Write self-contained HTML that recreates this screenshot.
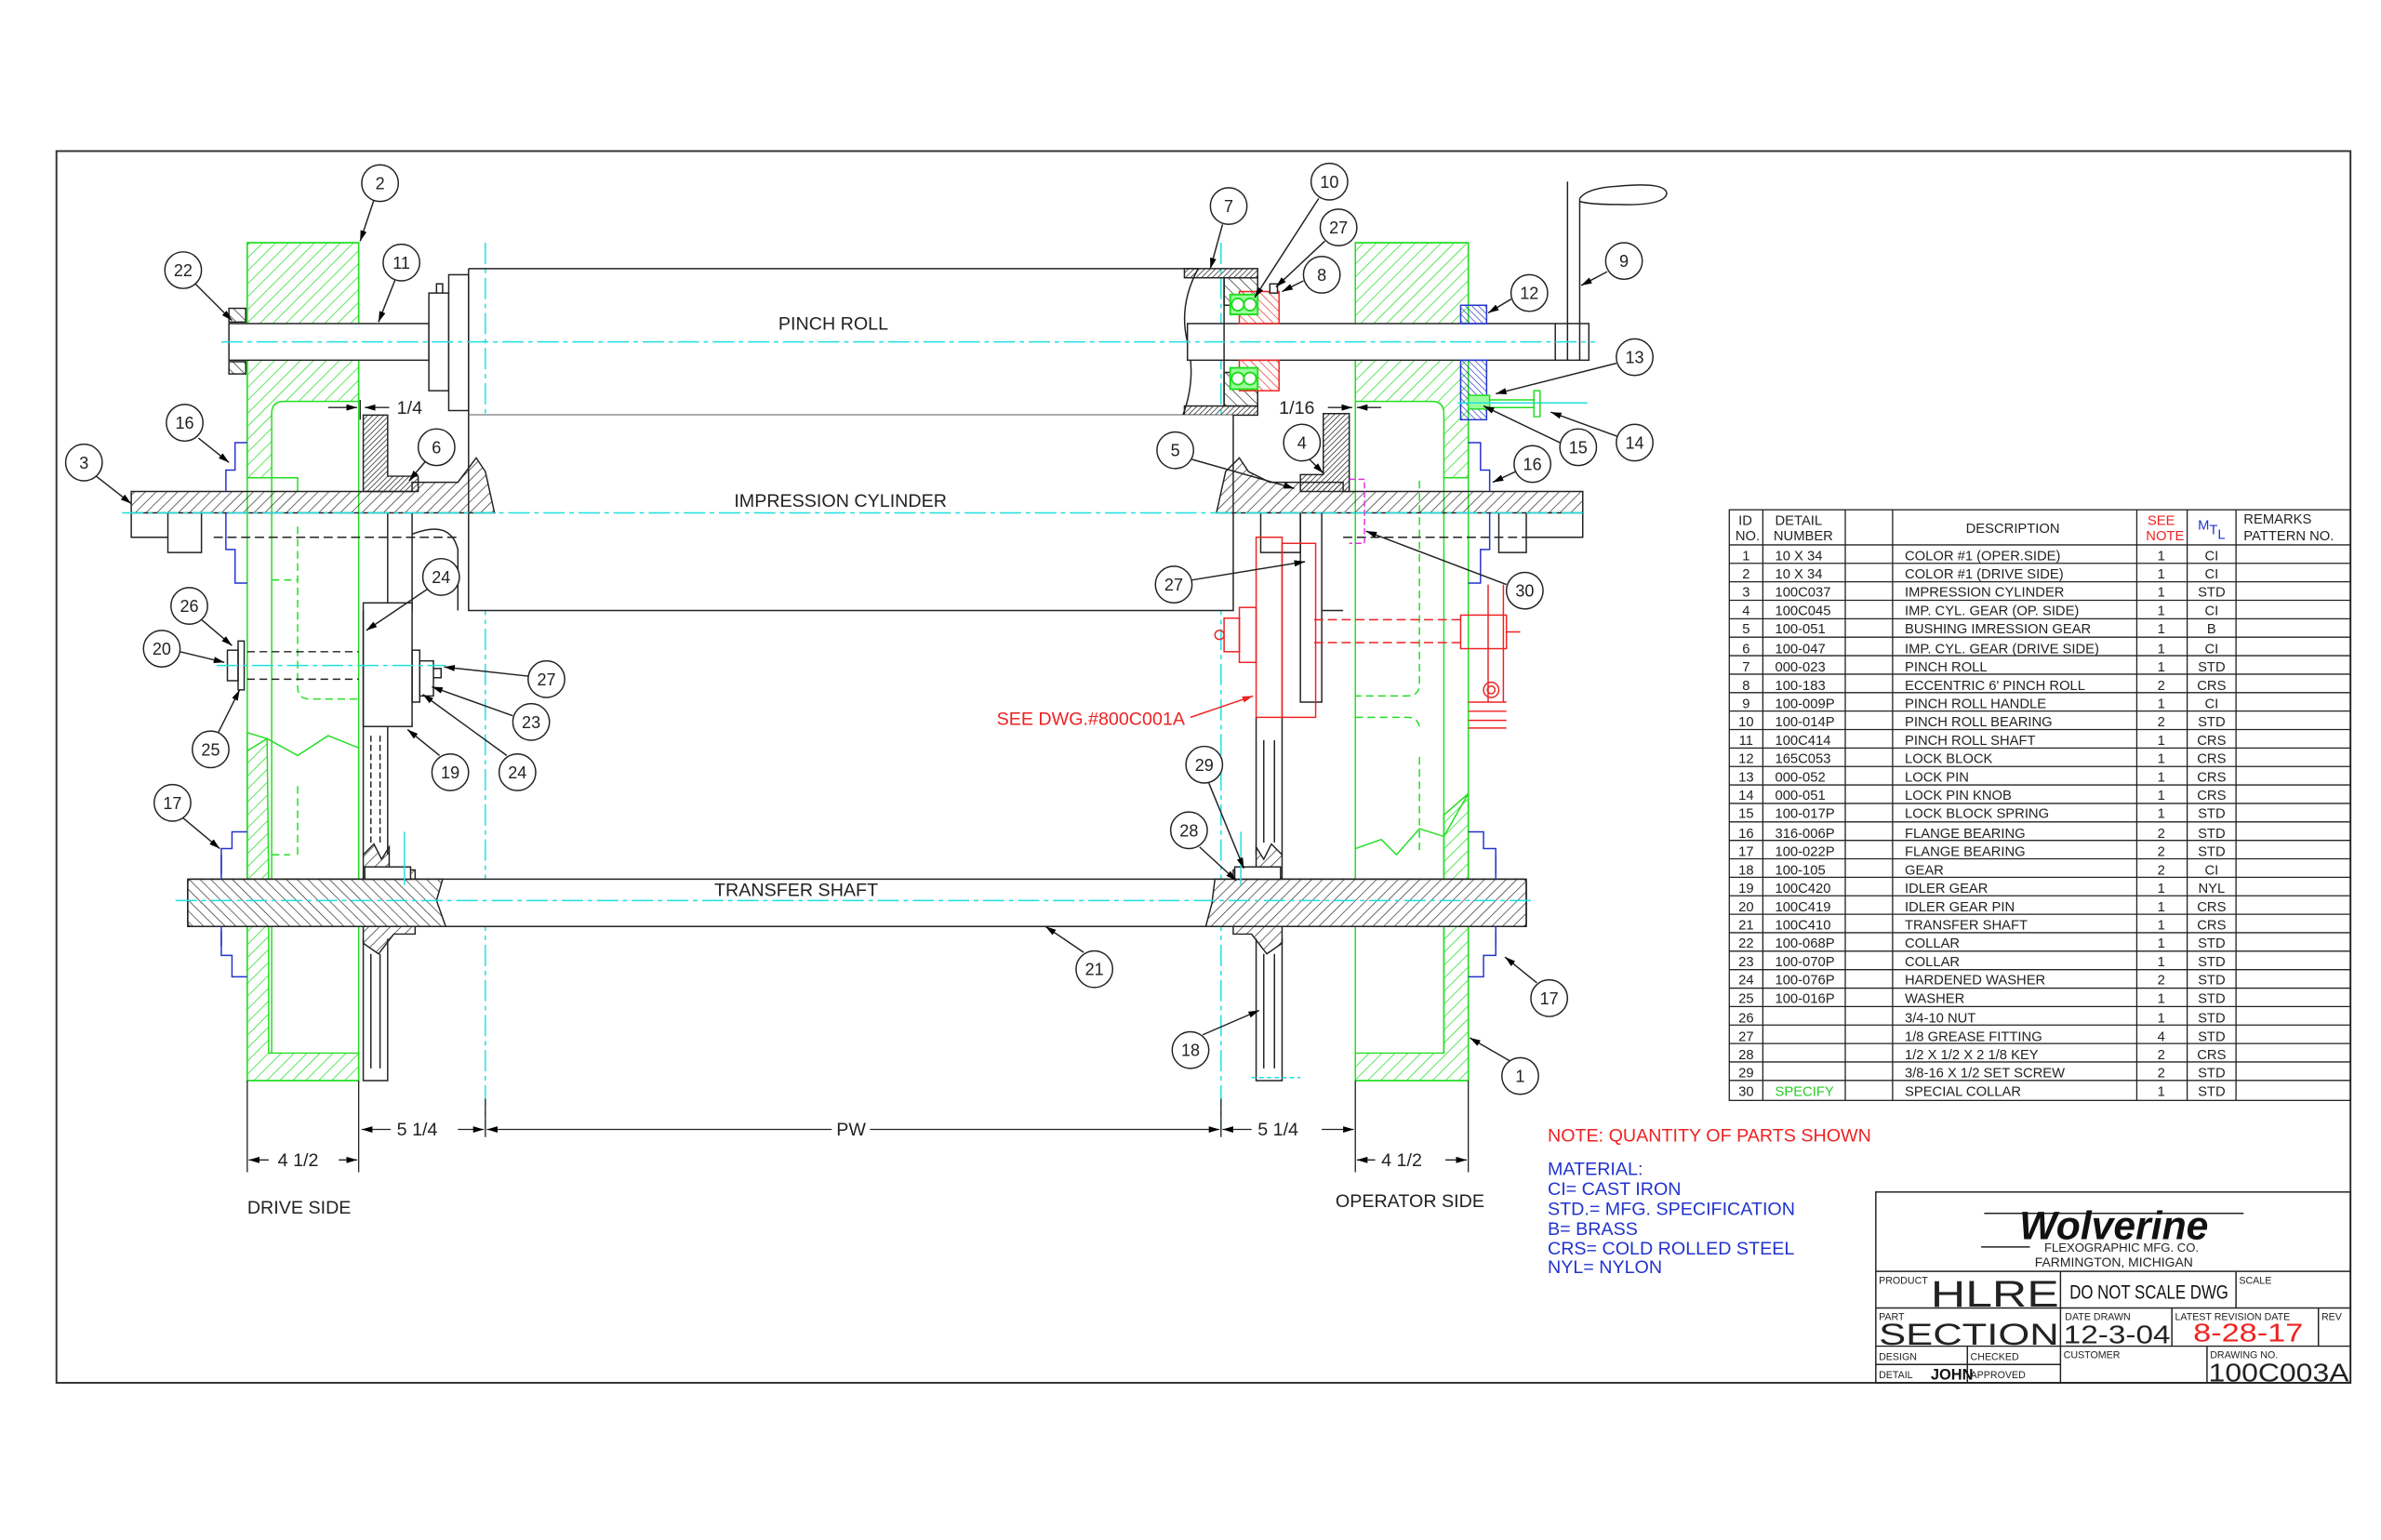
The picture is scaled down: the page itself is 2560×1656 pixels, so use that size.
<!DOCTYPE html>
<html><head><meta charset="utf-8"><style>
html,body{margin:0;padding:0;background:#fff}
svg{display:block}
text{font-family:"Liberation Sans Narrow","Liberation Sans",sans-serif}
</style></head><body>
<svg width="2560" height="1656" viewBox="0 0 1560 1009" preserveAspectRatio="none" xmlns="http://www.w3.org/2000/svg">
<defs>
<pattern id="hg" patternUnits="userSpaceOnUse" width="6" height="6" patternTransform="rotate(45)"><line x1="0" y1="0" x2="0" y2="6" stroke="#22dd22" stroke-width="0.9"/></pattern>
<pattern id="hk" patternUnits="userSpaceOnUse" width="5" height="5" patternTransform="rotate(-45)"><line x1="0" y1="0" x2="0" y2="5" stroke="#222" stroke-width="0.8"/></pattern>
<pattern id="hk2" patternUnits="userSpaceOnUse" width="5" height="5" patternTransform="rotate(45)"><line x1="0" y1="0" x2="0" y2="5" stroke="#222" stroke-width="0.8"/></pattern>
<pattern id="hd" patternUnits="userSpaceOnUse" width="2.5" height="2.5" patternTransform="rotate(45)"><line x1="0" y1="0" x2="0" y2="2.5" stroke="#222" stroke-width="0.9"/></pattern>
<pattern id="hr" patternUnits="userSpaceOnUse" width="4" height="4" patternTransform="rotate(-45)"><line x1="0" y1="0" x2="0" y2="4" stroke="#e22" stroke-width="0.8"/></pattern>
<pattern id="hb" patternUnits="userSpaceOnUse" width="3" height="3" patternTransform="rotate(-45)"><line x1="0" y1="0" x2="0" y2="3" stroke="#2233cc" stroke-width="0.8"/></pattern>
<marker id="ar" viewBox="0 0 10 10" refX="10" refY="5" markerWidth="7" markerHeight="7" orient="auto-start-reverse" markerUnits="userSpaceOnUse"><path d="M0,2 L10,5 L0,8 Z" fill="#000"/></marker>
<marker id="arr" viewBox="0 0 10 10" refX="10" refY="5" markerWidth="7" markerHeight="7" orient="auto-start-reverse" markerUnits="userSpaceOnUse"><path d="M0,2 L10,5 L0,8 Z" fill="#e22"/></marker>
</defs>

<!-- border -->
<rect x="37" y="99" width="1503" height="807" fill="none" stroke="#333" stroke-width="1.2"/>

<g stroke-width="0.9" fill="none">
<!-- centerlines vertical -->
<line x1="318" y1="159" x2="318" y2="740" stroke="#1ee0e0" stroke-dasharray="14,3,3,3"/>
<line x1="800" y1="159" x2="800" y2="740" stroke="#1ee0e0" stroke-dasharray="14,3,3,3"/>

<!-- LEFT FRAME (2) -->
<g stroke="#22dd22">
<path d="M162,159 H235 V263 H186 Q178,263 178,271 V313 H162 Z" fill="url(#hg)"/>
<path d="M162,480 L175,484 L195,495 L215,482 L235,490 V576 H162 Z" fill="none"/>
<path d="M162,492 L175,484 L176,576 H162 Z" fill="url(#hg)"/>
<path d="M162,607 H176 V690 H235 V708 H162 Z" fill="url(#hg)"/>
<rect x="162" y="159" width="73" height="549"/>
<line x1="178" y1="313" x2="178" y2="690"/>
<path d="M178,313 H195 V322" />
<path d="M178,380 H195 M195,345 V450 Q195,458 203,458 H235 M178,560 H190" stroke-dasharray="5,3"/>
<path d="M195,515 V560" stroke-dasharray="5,3"/>
</g>
<!-- RIGHT FRAME (1) -->
<g stroke="#22dd22">
<path d="M888,159 H962 V313 H946 V271 Q946,263 938,263 H888 Z" fill="url(#hg)"/>
<path d="M888,556 L905,550 L915,560 L930,543 L946,548 L962,520 V576 H946" fill="none"/>
<path d="M946,534 L962,520 V576 H946 Z" fill="url(#hg)"/>
<path d="M946,607 H962 V708 H888 V690 H946 Z" fill="url(#hg)"/>
<rect x="888" y="159" width="74" height="549"/>
<line x1="946" y1="313" x2="946" y2="690"/>
<path d="M930,315 V448 Q930,456 922,456 H888 M930,496 V560" stroke-dasharray="5,3"/>
<path d="M888,470 H922 Q930,470 930,478" stroke-dasharray="5,3"/>
</g>

<!-- PINCH ROLL -->
<g stroke="#222">
<rect x="150" y="212" width="131" height="24" fill="#fff"/>
<rect x="281" y="192" width="13" height="64" fill="#fff"/>
<rect x="294" y="180" width="13" height="89" fill="#fff"/>
<path d="M286,192 V186 H290 V192"/>
<path d="M307,176 H785 M307,272 H785 M307,176 V272"/>
<path d="M785,176 Q772,200 778,224 Q784,248 775,272"/>
<rect x="150" y="202" width="11" height="9" fill="url(#hk)"/>
<rect x="150" y="237" width="11" height="8" fill="url(#hk)"/>
<!-- right pinch shaft -->
<rect x="778" y="212" width="263" height="24" fill="#fff"/>
<line x1="1019" y1="212" x2="1019" y2="236"/>
<path d="M1027,236 V119 M1035,236 V130"/>
<path d="M1035,130 Q1040,123 1060,122 Q1092,119 1092,127 Q1090,135 1060,134 Q1042,134 1035,132"/>
<!-- pinch roll bearing housing 7 -->
<rect x="776" y="176" width="48" height="6" fill="url(#hd)"/>
<path d="M802,182 H824 V200 H802 Z" fill="url(#hk)"/>
<path d="M802,244 H824 V266 H802 Z" fill="url(#hk)"/>
<rect x="776" y="266" width="48" height="6" fill="url(#hd)"/>
<path d="M802,182 V266"/>
</g>
<g stroke="#e22">
<path d="M812,191 H838 V212 H812 Z" fill="url(#hr)"/>
<path d="M812,236 H838 V256 H812 Z" fill="url(#hr)"/>
</g>
<g stroke="#22dd22" stroke-width="1.2">
<rect x="806" y="193" width="18" height="13" fill="#9f9"/>
<rect x="806" y="241" width="18" height="14" fill="#9f9"/>
<circle cx="811" cy="199.5" r="4" fill="#fff"/><circle cx="819" cy="199.5" r="4" fill="#fff"/>
<circle cx="811" cy="248" r="4" fill="#fff"/><circle cx="819" cy="248" r="4" fill="#fff"/>
</g>
<rect x="832" y="186" width="5" height="6" fill="#fff" stroke="#222"/>
<!-- lock block 12 -->
<rect x="957" y="200" width="17" height="12" fill="url(#hb)" stroke="#2233cc"/>
<rect x="957" y="236" width="17" height="39" fill="url(#hb)" stroke="#2233cc"/>
<rect x="962" y="259" width="14" height="9" fill="#9f9" stroke="#22dd22"/>
<line x1="955" y1="264" x2="1040" y2="264" stroke="#1ee0e0"/>
<path d="M976,262 H1005 V267 H976 M1005,256 H1009 V273 H1005 Z" stroke="#22dd22"/>

<!-- centerline pinch -->
<line x1="145" y1="224" x2="1045" y2="224" stroke="#1ee0e0" stroke-dasharray="14,3,3,3"/>

<!-- IMPRESSION CYLINDER -->
<g stroke="#222">
<path d="M307,272 V400 H808 V272" fill="#fff"/>
<path d="M86,322 H270 V316 H300 L312,300 L318,309 L324,336 H86 Z" fill="url(#hk2)"/>
<path d="M812,300 L818,309 L832,316 H880 V322 H1037 V336 H797 L803,309 Z" fill="url(#hk2)"/>
<path d="M86,336 V352 H110 M110,336 V362 H132 V336 M1037,336 V352 H1000 M1000,336 V362 H982 V336"/>
<path d="M140,352 H300 M880,352 H1000" stroke-dasharray="6,3"/>
<path d="M254,336 V400 H270 V336 M826,336 V362 H852 V336"/>
<path d="M270,350 Q295,340 300,360 V400"/>
<!-- gears 6 / 4 -->
<path d="M238,272 H254 V312 H274 V322 H238 Z" fill="url(#hd)"/>
<path d="M867,271 H884 V322 H852 V311 H867 Z" fill="url(#hd)"/>
</g>
<line x1="80" y1="336" x2="1040" y2="336" stroke="#1ee0e0" stroke-dasharray="14,3,3,3"/>
<!-- flanges 16 -->
<path d="M162,290 H154 V308 H148 V322 M148,336 V360 H154 V382 H162" stroke="#2233cc"/>
<path d="M962,290 H970 V308 H976 V322 M976,336 V360 H970 V382 H962" stroke="#2233cc"/>
<!-- magenta collar 30 -->
<path d="M884,314 H894 V356 H884" stroke="#dd33dd" stroke-dasharray="4,2"/>

<!-- IDLER GEAR left -->
<g stroke="#222">
<rect x="238" y="395" width="32" height="81" fill="#fff"/>
<rect x="270" y="426" width="5" height="34"/>
<rect x="275" y="433" width="9" height="23"/>
<path d="M284,438 H289 V444 H284"/>
<path d="M162,427 H235 M162,445 H235" stroke-dasharray="5,3"/>
<rect x="156" y="420" width="4" height="32"/>
<rect x="149" y="426" width="7" height="20"/>
<line x1="238" y1="400" x2="238" y2="560"/><line x1="254" y1="476" x2="254" y2="560"/>
<path d="M243,482 V552 M249,482 V552" stroke-dasharray="4,2"/>
<path d="M238,615 V708 H254 V615 M243,625 V700 M249,625 V700"/>
</g>
<line x1="142" y1="436" x2="292" y2="436" stroke="#1ee0e0" stroke-dasharray="14,3,3,3"/>

<!-- RIGHT gear column / red assembly -->
<g stroke="#222">
<path d="M823,470 V560 M840,470 V560 M828,485 V552 M835,485 V552" />
<path d="M823,615 V708 H840 V615 M828,625 V700 M835,625 V700"/>
<path d="M852,336 V460 H866 V336 M866,336 V400 H880"/>
</g>
<g stroke="#e22">
<rect x="823" y="352" width="17" height="118"/>
<rect x="840" y="356" width="22" height="114"/>
<rect x="812" y="398" width="11" height="36"/>
<rect x="802" y="405" width="10" height="22"/>
<circle cx="799" cy="416" r="3"/>
<path d="M861,406 H957 M861,421 H957" stroke-dasharray="6,3"/>
<rect x="957" y="403" width="30" height="22"/>
<path d="M975,383 V460 M985,383 V460 M987,414 H996"/>
<circle cx="977" cy="452" r="5"/><circle cx="977" cy="452" r="2.5"/>
<path d="M962,460 H987 M962,466 H987 M962,472 H987 M962,477 H987"/>
<line x1="780" y1="470" x2="821" y2="456" marker-end="url(#arr)"/>
</g>

<!-- TRANSFER SHAFT -->
<g stroke="#222">
<rect x="123" y="576" width="877" height="31" fill="#fff" rx="2"/>
<path d="M123,576 H290 L286,590 L292,607 H123 Z" fill="url(#hk)"/>
<path d="M796,576 H1000 V607 H790 L794,592 Z" fill="url(#hk2)"/>
<path d="M238,560 L245,553 L250,563 L255,555 V570 H272 V576 H238 Z M238,607 H272 V612 H258 L248,625 L238,618 Z" fill="url(#hk2)"/>
<path d="M840,560 L833,553 L828,563 L823,555 V570 H808 V576 H840 Z M840,607 H808 V612 H820 L830,625 L840,618 Z" fill="url(#hk2)"/>
<rect x="239" y="568" width="30" height="8" fill="#fff"/>
<rect x="809" y="568" width="30" height="8" fill="#fff"/>
<path d="M145,560 V573 M145,610 V620 M980,560 V573 M980,610 V620"/>
</g>
<line x1="115" y1="590" x2="1005" y2="590" stroke="#1ee0e0" stroke-dasharray="14,3,3,3"/>
<line x1="265" y1="545" x2="265" y2="580" stroke="#1ee0e0"/>
<line x1="813" y1="545" x2="813" y2="580" stroke="#1ee0e0"/>
<line x1="820" y1="706" x2="852" y2="706" stroke="#1ee0e0" stroke-dasharray="3,2"/>
<path d="M162,545 H152 V556 H145 V576 M145,607 V626 H152 V640 H162" stroke="#2233cc"/>
<path d="M962,545 H972 V556 H980 V576 M980,607 V626 H972 V640 H962" stroke="#2233cc"/>

<!-- DIMENSIONS -->
<g stroke="#222" stroke-width="0.8">
<path d="M162,708 V768 M235,708 V768 M888,708 V768 M962,708 V768 M318,720 V745 M800,720 V745"/>
<line x1="237" y1="740" x2="256" y2="740" marker-start="url(#ar)"/>
<line x1="300" y1="740" x2="317" y2="740" marker-end="url(#ar)"/>
<line x1="319" y1="740" x2="545" y2="740" marker-start="url(#ar)"/>
<line x1="570" y1="740" x2="799" y2="740" marker-end="url(#ar)"/>
<line x1="801" y1="740" x2="820" y2="740" marker-start="url(#ar)"/>
<line x1="866" y1="740" x2="887" y2="740" marker-end="url(#ar)"/>
<line x1="163" y1="760" x2="176" y2="760" marker-start="url(#ar)"/>
<line x1="222" y1="760" x2="234" y2="760" marker-end="url(#ar)"/>
<line x1="889" y1="760" x2="901" y2="760" marker-start="url(#ar)"/>
<line x1="947" y1="760" x2="961" y2="760" marker-end="url(#ar)"/>
<line x1="215" y1="267" x2="234" y2="267" marker-end="url(#ar)"/>
<line x1="255" y1="267" x2="239" y2="267" marker-end="url(#ar)"/>
<line x1="236" y1="262" x2="236" y2="275"/>
<line x1="870" y1="267" x2="886" y2="267" marker-end="url(#ar)"/>
<line x1="905" y1="267" x2="889" y2="267" marker-end="url(#ar)"/>
</g>
</g>

<!-- labels -->
<g font-size="12" fill="#222">
<text x="510" y="216">PINCH ROLL</text>
<text x="481" y="332">IMPRESSION CYLINDER</text>
<text x="468" y="587">TRANSFER SHAFT</text>
<text x="260" y="744">5 1/4</text>
<text x="548" y="744">PW</text>
<text x="824" y="744">5 1/4</text>
<text x="182" y="764">4 1/2</text>
<text x="905" y="764">4 1/2</text>
<text x="162" y="795">DRIVE SIDE</text>
<text x="875" y="791">OPERATOR SIDE</text>
<text x="260" y="271">1/4</text>
<text x="838" y="271">1/16</text>
</g>
<text x="653" y="475" font-size="12" fill="#e22">SEE DWG.#800C001A</text>

<!-- balloons -->
<g stroke="#222" stroke-width="0.9" fill="none">
<g id="leaders">
<line x1="245" y1="131" x2="236" y2="158" marker-end="url(#ar)"/>
<line x1="128" y1="186" x2="152" y2="210" marker-end="url(#ar)"/>
<line x1="259" y1="183" x2="248" y2="211" marker-end="url(#ar)"/>
<line x1="130" y1="287" x2="150" y2="303" marker-end="url(#ar)"/>
<line x1="63" y1="312" x2="86" y2="330" marker-end="url(#ar)"/>
<line x1="279" y1="302" x2="268" y2="315" marker-end="url(#ar)"/>
<line x1="280" y1="386" x2="240" y2="413" marker-end="url(#ar)"/>
<line x1="132" y1="406" x2="152" y2="423" marker-end="url(#ar)"/>
<line x1="118" y1="427" x2="147" y2="434" marker-end="url(#ar)"/>
<line x1="346" y1="443" x2="291" y2="437" marker-end="url(#ar)"/>
<line x1="336" y1="469" x2="283" y2="450" marker-end="url(#ar)"/>
<line x1="143" y1="480" x2="157" y2="452" marker-end="url(#ar)"/>
<line x1="288" y1="495" x2="267" y2="478" marker-end="url(#ar)"/>
<line x1="332" y1="495" x2="277" y2="455" marker-end="url(#ar)"/>
<line x1="120" y1="536" x2="144" y2="556" marker-end="url(#ar)"/>
<line x1="801" y1="147" x2="793" y2="176" marker-end="url(#ar)"/>
<line x1="864" y1="130" x2="822" y2="195" marker-end="url(#ar)"/>
<line x1="868" y1="158" x2="836" y2="188" marker-end="url(#ar)"/>
<line x1="854" y1="184" x2="840" y2="191" marker-end="url(#ar)"/>
<line x1="1053" y1="178" x2="1036" y2="187" marker-end="url(#ar)"/>
<line x1="990" y1="196" x2="975" y2="205" marker-end="url(#ar)"/>
<line x1="1059" y1="238" x2="980" y2="258" marker-end="url(#ar)"/>
<line x1="1060" y1="286" x2="1016" y2="270" marker-end="url(#ar)"/>
<line x1="1022" y1="290" x2="972" y2="266" marker-end="url(#ar)"/>
<line x1="993" y1="309" x2="978" y2="316" marker-end="url(#ar)"/>
<line x1="781" y1="301" x2="848" y2="320" marker-end="url(#ar)"/>
<line x1="858" y1="301" x2="867" y2="310" marker-end="url(#ar)"/>
<line x1="987" y1="383" x2="895" y2="348" marker-end="url(#ar)"/>
<line x1="781" y1="380" x2="855" y2="368" marker-end="url(#ar)"/>
<line x1="792" y1="513" x2="815" y2="569" marker-end="url(#ar)"/>
<line x1="786" y1="555" x2="810" y2="577" marker-end="url(#ar)"/>
<line x1="710" y1="624" x2="685" y2="607" marker-end="url(#ar)"/>
<line x1="788" y1="678" x2="825" y2="662" marker-end="url(#ar)"/>
<line x1="1007" y1="644" x2="986" y2="627" marker-end="url(#ar)"/>
<line x1="989" y1="695" x2="963" y2="680" marker-end="url(#ar)"/>
</g>
<g fill="#fff">
<circle cx="249" cy="120" r="12"/><circle cx="120" cy="177" r="12"/><circle cx="263" cy="172" r="12"/>
<circle cx="121" cy="277" r="12"/><circle cx="55" cy="303" r="12"/><circle cx="286" cy="293" r="12"/>
<circle cx="289" cy="378" r="12"/><circle cx="124" cy="397" r="12"/><circle cx="106" cy="425" r="12"/>
<circle cx="358" cy="445" r="12"/><circle cx="348" cy="473" r="12"/><circle cx="138" cy="491" r="12"/>
<circle cx="295" cy="506" r="12"/><circle cx="339" cy="506" r="12"/><circle cx="113" cy="526" r="12"/>
<circle cx="805" cy="135" r="12"/><circle cx="871" cy="119" r="12"/><circle cx="877" cy="149" r="12"/>
<circle cx="866" cy="180" r="12"/><circle cx="1064" cy="171" r="12"/><circle cx="1002" cy="192" r="12"/>
<circle cx="1071" cy="234" r="12"/><circle cx="1071" cy="290" r="12"/><circle cx="1034" cy="293" r="12"/>
<circle cx="1004" cy="304" r="12"/><circle cx="770" cy="295" r="12"/><circle cx="853" cy="290" r="12"/>
<circle cx="999" cy="387" r="12"/><circle cx="769" cy="383" r="12"/><circle cx="789" cy="501" r="12"/>
<circle cx="779" cy="544" r="12"/><circle cx="717" cy="635" r="12"/><circle cx="780" cy="688" r="12"/>
<circle cx="1015" cy="654" r="12"/><circle cx="996" cy="705" r="12"/>
</g>
</g>
<g font-size="11" fill="#222" text-anchor="middle">
<text x="249" y="124">2</text><text x="120" y="181">22</text><text x="263" y="176">11</text>
<text x="121" y="281">16</text><text x="55" y="307">3</text><text x="286" y="297">6</text>
<text x="289" y="382">24</text><text x="124" y="401">26</text><text x="106" y="429">20</text>
<text x="358" y="449">27</text><text x="348" y="477">23</text><text x="138" y="495">25</text>
<text x="295" y="510">19</text><text x="339" y="510">24</text><text x="113" y="530">17</text>
<text x="805" y="139">7</text><text x="871" y="123">10</text><text x="877" y="153">27</text>
<text x="866" y="184">8</text><text x="1064" y="175">9</text><text x="1002" y="196">12</text>
<text x="1071" y="238">13</text><text x="1071" y="294">14</text><text x="1034" y="297">15</text>
<text x="1004" y="308">16</text><text x="770" y="299">5</text><text x="853" y="294">4</text>
<text x="999" y="391">30</text><text x="769" y="387">27</text><text x="789" y="505">29</text>
<text x="779" y="548">28</text><text x="717" y="639">21</text><text x="780" y="692">18</text>
<text x="1015" y="658">17</text><text x="996" y="709">1</text>
</g>

<!-- PARTS TABLE -->
<g stroke="#222" stroke-width="0.8" fill="none">
<rect x="1133" y="334" width="407" height="387"/>
<line x1="1133" y1="357" x2="1540" y2="357"/>
<path d="M1155,334V721 M1209,334V721 M1240,334V721 M1400,334V721 M1433,334V721 M1465,334V721"/>
<path d="M1133,369.1H1540 M1133,381.2H1540 M1133,393.3H1540 M1133,405.4H1540 M1133,417.5H1540 M1133,429.6H1540 M1133,441.7H1540 M1133,453.8H1540 M1133,465.9H1540 M1133,478H1540 M1133,490.1H1540 M1133,502.2H1540 M1133,514.3H1540 M1133,526.4H1540 M1133,538.5H1540 M1133,550.6H1540 M1133,562.7H1540 M1133,574.8H1540 M1133,586.9H1540 M1133,599H1540 M1133,611.1H1540 M1133,623.2H1540 M1133,635.3H1540 M1133,647.4H1540 M1133,659.5H1540 M1133,671.6H1540 M1133,683.7H1540 M1133,695.8H1540 M1133,707.9H1540"/>
</g>
<g font-size="9" fill="#222">
<text x="1139" y="344">ID</text><text x="1137" y="354">NO.</text>
<text x="1163" y="344">DETAIL</text><text x="1162" y="354">NUMBER</text>
<text x="1288" y="349">DESCRIPTION</text>
<text x="1470" y="343">REMARKS</text><text x="1470" y="354">PATTERN NO.</text>
</g>
<text x="1407" y="344" font-size="9" fill="#e22">SEE</text><text x="1406" y="354" font-size="9" fill="#e22">NOTE</text>
<text x="1440" y="347" font-size="9" fill="#2233cc">M<tspan dy="3">T</tspan><tspan dy="3">L</tspan></text>
<g font-size="9" fill="#222">
<g text-anchor="middle">
<text x="1144" y="367">1</text><text x="1144" y="379">2</text><text x="1144" y="391">3</text><text x="1144" y="403">4</text><text x="1144" y="415">5</text><text x="1144" y="428">6</text><text x="1144" y="440">7</text><text x="1144" y="452">8</text><text x="1144" y="464">9</text><text x="1144" y="476">10</text><text x="1144" y="488">11</text><text x="1144" y="500">12</text><text x="1144" y="512">13</text><text x="1144" y="524">14</text><text x="1144" y="536">15</text><text x="1144" y="549">16</text><text x="1144" y="561">17</text><text x="1144" y="573">18</text><text x="1144" y="585">19</text><text x="1144" y="597">20</text><text x="1144" y="609">21</text><text x="1144" y="621">22</text><text x="1144" y="633">23</text><text x="1144" y="645">24</text><text x="1144" y="657">25</text><text x="1144" y="670">26</text><text x="1144" y="682">27</text><text x="1144" y="694">28</text><text x="1144" y="706">29</text><text x="1144" y="718">30</text>
<text x="1416" y="367">1</text><text x="1416" y="379">1</text><text x="1416" y="391">1</text><text x="1416" y="403">1</text><text x="1416" y="415">1</text><text x="1416" y="428">1</text><text x="1416" y="440">1</text><text x="1416" y="452">2</text><text x="1416" y="464">1</text><text x="1416" y="476">2</text><text x="1416" y="488">1</text><text x="1416" y="500">1</text><text x="1416" y="512">1</text><text x="1416" y="524">1</text><text x="1416" y="536">1</text><text x="1416" y="549">2</text><text x="1416" y="561">2</text><text x="1416" y="573">2</text><text x="1416" y="585">1</text><text x="1416" y="597">1</text><text x="1416" y="609">1</text><text x="1416" y="621">1</text><text x="1416" y="633">1</text><text x="1416" y="645">2</text><text x="1416" y="657">1</text><text x="1416" y="670">1</text><text x="1416" y="682">4</text><text x="1416" y="694">2</text><text x="1416" y="706">2</text><text x="1416" y="718">1</text>
<text x="1449" y="367">CI</text><text x="1449" y="379">CI</text><text x="1449" y="391">STD</text><text x="1449" y="403">CI</text><text x="1449" y="415">B</text><text x="1449" y="428">CI</text><text x="1449" y="440">STD</text><text x="1449" y="452">CRS</text><text x="1449" y="464">CI</text><text x="1449" y="476">STD</text><text x="1449" y="488">CRS</text><text x="1449" y="500">CRS</text><text x="1449" y="512">CRS</text><text x="1449" y="524">CRS</text><text x="1449" y="536">STD</text><text x="1449" y="549">STD</text><text x="1449" y="561">STD</text><text x="1449" y="573">CI</text><text x="1449" y="585">NYL</text><text x="1449" y="597">CRS</text><text x="1449" y="609">CRS</text><text x="1449" y="621">STD</text><text x="1449" y="633">STD</text><text x="1449" y="645">STD</text><text x="1449" y="657">STD</text><text x="1449" y="670">STD</text><text x="1449" y="682">STD</text><text x="1449" y="694">CRS</text><text x="1449" y="706">STD</text><text x="1449" y="718">STD</text>
</g>
<text x="1163" y="367">10 X 34</text><text x="1163" y="379">10 X 34</text><text x="1163" y="391">100C037</text><text x="1163" y="403">100C045</text><text x="1163" y="415">100-051</text><text x="1163" y="428">100-047</text><text x="1163" y="440">000-023</text><text x="1163" y="452">100-183</text><text x="1163" y="464">100-009P</text><text x="1163" y="476">100-014P</text><text x="1163" y="488">100C414</text><text x="1163" y="500">165C053</text><text x="1163" y="512">000-052</text><text x="1163" y="524">000-051</text><text x="1163" y="536">100-017P</text><text x="1163" y="549">316-006P</text><text x="1163" y="561">100-022P</text><text x="1163" y="573">100-105</text><text x="1163" y="585">100C420</text><text x="1163" y="597">100C419</text><text x="1163" y="609">100C410</text><text x="1163" y="621">100-068P</text><text x="1163" y="633">100-070P</text><text x="1163" y="645">100-076P</text><text x="1163" y="657">100-016P</text>
<text x="1163" y="718" fill="#22cc22">SPECIFY</text>
<text x="1248" y="367">COLOR #1 (OPER.SIDE)</text><text x="1248" y="379">COLOR #1 (DRIVE SIDE)</text><text x="1248" y="391">IMPRESSION CYLINDER</text><text x="1248" y="403">IMP. CYL. GEAR (OP. SIDE)</text><text x="1248" y="415">BUSHING IMRESSION GEAR</text><text x="1248" y="428">IMP. CYL. GEAR (DRIVE SIDE)</text><text x="1248" y="440">PINCH ROLL</text><text x="1248" y="452">ECCENTRIC 6' PINCH ROLL</text><text x="1248" y="464">PINCH ROLL HANDLE</text><text x="1248" y="476">PINCH ROLL BEARING</text><text x="1248" y="488">PINCH ROLL SHAFT</text><text x="1248" y="500">LOCK BLOCK</text><text x="1248" y="512">LOCK PIN</text><text x="1248" y="524">LOCK PIN KNOB</text><text x="1248" y="536">LOCK BLOCK SPRING</text><text x="1248" y="549">FLANGE BEARING</text><text x="1248" y="561">FLANGE BEARING</text><text x="1248" y="573">GEAR</text><text x="1248" y="585">IDLER GEAR</text><text x="1248" y="597">IDLER GEAR PIN</text><text x="1248" y="609">TRANSFER SHAFT</text><text x="1248" y="621">COLLAR</text><text x="1248" y="633">COLLAR</text><text x="1248" y="645">HARDENED WASHER</text><text x="1248" y="657">WASHER</text><text x="1248" y="670">3/4-10 NUT</text><text x="1248" y="682">1/8 GREASE FITTING</text><text x="1248" y="694">1/2 X 1/2 X 2 1/8 KEY</text><text x="1248" y="706">3/8-16 X 1/2 SET SCREW</text><text x="1248" y="718">SPECIAL COLLAR</text>
</g>

<!-- NOTES -->
<text x="1014" y="748" font-size="12" fill="#e22">NOTE: QUANTITY OF PARTS SHOWN</text>
<g font-size="12" fill="#2233cc">
<text x="1014" y="770">MATERIAL:</text>
<text x="1014" y="783">CI= CAST IRON</text>
<text x="1014" y="796">STD.= MFG. SPECIFICATION</text>
<text x="1014" y="809">B= BRASS</text>
<text x="1014" y="822">CRS= COLD ROLLED STEEL</text>
<text x="1014" y="834">NYL= NYLON</text>
</g>

<!-- TITLE BLOCK -->
<g stroke="#222" stroke-width="0.9" fill="none">
<rect x="1229" y="781" width="311" height="125"/>
<path d="M1229,833H1540 M1229,857H1540 M1229,882H1540 M1229,894H1350"/>
<path d="M1350,833V906 M1465,833V857 M1423,857V882 M1519,857V882 M1289,882V906 M1446,882V906"/>
<path d="M1300,795 H1470 M1298,817 H1330"/>
</g>
<text x="1385" y="812" font-size="26" font-weight="bold" font-style="italic" fill="#111" text-anchor="middle" font-family="Liberation Serif, serif">Wolverine</text>
<text x="1390" y="820" font-size="8" fill="#222" text-anchor="middle">FLEXOGRAPHIC MFG. CO.</text>
<text x="1385" y="830" font-size="8.5" fill="#222" text-anchor="middle">FARMINGTON, MICHIGAN</text>
<g font-size="6.5" fill="#222">
<text x="1231" y="841">PRODUCT</text><text x="1467" y="841">SCALE</text>
<text x="1231" y="865">PART</text><text x="1353" y="865">DATE DRAWN</text><text x="1425" y="865">LATEST REVISION DATE</text><text x="1521" y="865">REV</text>
<text x="1231" y="891">DESIGN</text><text x="1291" y="891">CHECKED</text><text x="1352" y="890">CUSTOMER</text><text x="1448" y="890">DRAWING NO.</text>
<text x="1231" y="903">DETAIL</text><text x="1291" y="903">APPROVED</text>
</g>
<text x="1265" y="856" font-size="24" fill="#222" font-weight="100" textLength="84" lengthAdjust="spacingAndGlyphs">HLRE</text>
<text x="1356" y="851" font-size="13" fill="#111" font-family="Liberation Serif, serif" textLength="104" lengthAdjust="spacingAndGlyphs">DO NOT SCALE DWG</text>
<text x="1231" y="881" font-size="20" fill="#222" textLength="118" lengthAdjust="spacingAndGlyphs">SECTION</text>
<text x="1352" y="880" font-size="17" fill="#222" textLength="70" lengthAdjust="spacingAndGlyphs">12-3-04</text>
<text x="1437" y="879" font-size="17" fill="#e22" textLength="72" lengthAdjust="spacingAndGlyphs">8-28-17</text>
<text x="1265" y="904" font-size="10" fill="#111" font-family="Liberation Serif, serif" font-weight="bold">JOHN</text>
<text x="1447" y="905" font-size="17" fill="#222" textLength="92" lengthAdjust="spacingAndGlyphs">100C003A</text>
</svg>
</body></html>
